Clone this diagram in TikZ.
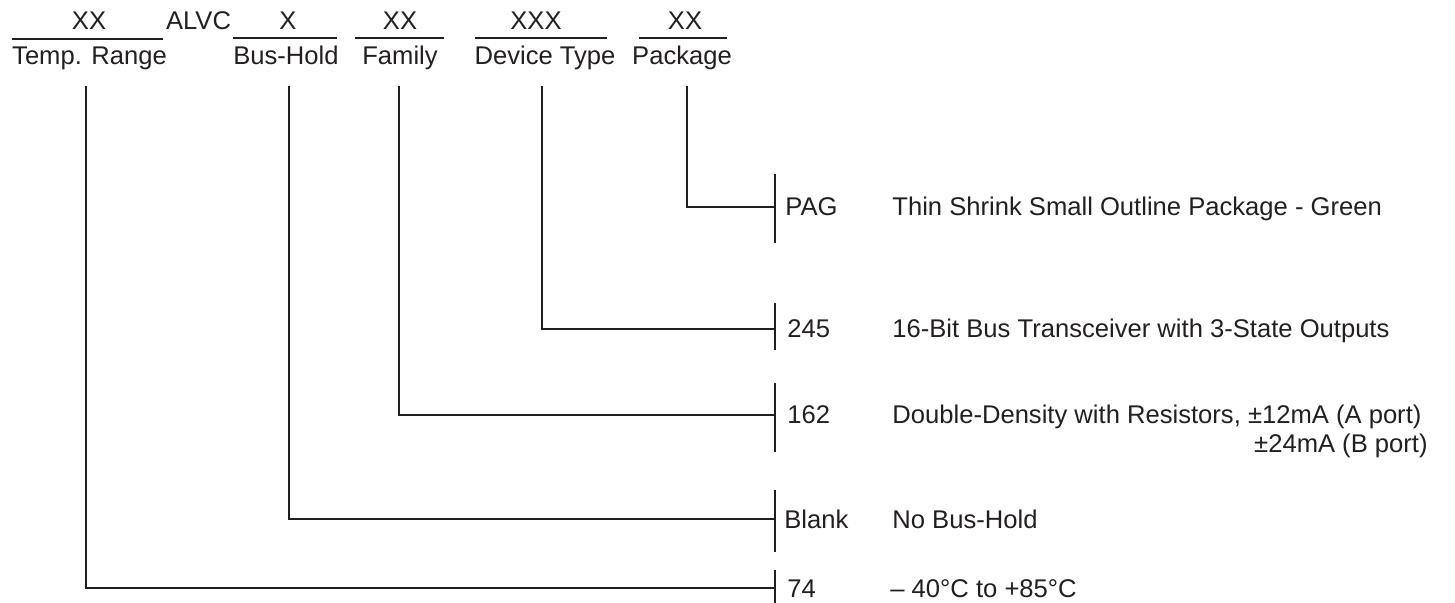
\documentclass[tikz,border=0pt]{standalone}
\usepackage{fontspec}
\setmainfont{Liberation Sans}
\definecolor{ink}{HTML}{231F20}
\begin{document}
\begin{tikzpicture}[x=0.5pt,y=-0.5pt,
  txt/.style={inner sep=0pt, anchor=base, font=\fontsize{12.8}{15}\selectfont, text=ink},
  txtl/.style={txt, anchor=base west},
  txtr/.style={txt, anchor=base east},
  ln/.style={line width=0.6pt, draw=ink}]
\useasboundingbox (0,0) rectangle (1455,603);
% top row
\node[txt] (c1) at (89,30) {XX};
\node[txt] (alvc) at (198.5,30) {ALVC};
\node[txt] (c2) at (288,30) {X};
\node[txt] (c3) at (400,30) {XX};
\node[txt] (c4) at (536,30) {XXX};
\node[txt] (c5) at (685,30) {XX};
\coordinate (u1a) at (12,39);  \coordinate (u1b) at (163,39);
\coordinate (u2a) at (233,38); \coordinate (u2b) at (337,38);
\coordinate (u3a) at (355,38); \coordinate (u3b) at (444,38);
\coordinate (u4a) at (475,38); \coordinate (u4b) at (607,38);
\coordinate (u5a) at (639,38); \coordinate (u5b) at (727,38);
\draw[ln] (u1a) -- (u1b);
\draw[ln] (u2a) -- (u2b);
\draw[ln] (u3a) -- (u3b);
\draw[ln] (u4a) -- (u4b);
\draw[ln] (u5a) -- (u5b);
% labels
\node[txt] (l1) at (89.5,65) {Temp. Range};
\node[txt] (l2) at (286,65) {Bus-Hold};
\node[txt] (l3) at (400,65) {Family};
\node[txt] (l4) at (545,65) {Device Type};
\node[txt] (l5) at (682,65) {Package};
% line tops
\coordinate (v1) at (86,86);
\coordinate (v2) at (289,86);
\coordinate (v3) at (399,86);
\coordinate (v4) at (542,86);
\coordinate (v5) at (687,86);
% bar ends
\coordinate (h5) at (775,207);
\coordinate (h4) at (775,329);
\coordinate (h3) at (775,415);
\coordinate (h2) at (775,519);
\coordinate (h1) at (775,588);
\draw[ln] (v5) |- (h5);
\draw[ln] (v4) |- (h4);
\draw[ln] (v3) |- (h3);
\draw[ln] (v2) |- (h2);
\draw[ln] (v1) |- (h1);
% bars
\coordinate (b5a) at (775,174); \coordinate (b5b) at (775,243);
\coordinate (b4a) at (775,303); \coordinate (b4b) at (775,350);
\coordinate (b3a) at (775,383); \coordinate (b3b) at (775,452);
\coordinate (b2a) at (775,490); \coordinate (b2b) at (775,552);
\coordinate (b1a) at (775,570); \coordinate (b1b) at (775,603);
\draw[ln] (b5a) -- (b5b);
\draw[ln] (b4a) -- (b4b);
\draw[ln] (b3a) -- (b3b);
\draw[ln] (b2a) -- (b2b);
\draw[ln] (b1a) -- (b1b);
% codes
\node[txtl] (k5) at (785,216) {PAG};
\node[txtl] (k4) at (787,338) {245};
\node[txtl] (k3) at (787,424) {162};
\node[txtl] (k2) at (784,528) {Blank};
\node[txtl] (k1) at (787,597) {74};
% descriptions
\node[txtl] (d5) at (892,216) {Thin Shrink Small Outline Package - Green};
\node[txtl] (d4) at (892,338) {16-Bit Bus Transceiver with 3-State Outputs};
\node[txtl] (d3) at (892,424) {Double-Density with Resistors, ±12mA (A port)};
\node[txtr] (d3b) at (1428,453) {±24mA (B port)};
\node[txtl] (d2) at (892,528) {No Bus-Hold};
\node[txtl] (d1) at (890,597) {– 40°C to +85°C};
\end{tikzpicture}
\end{document}
